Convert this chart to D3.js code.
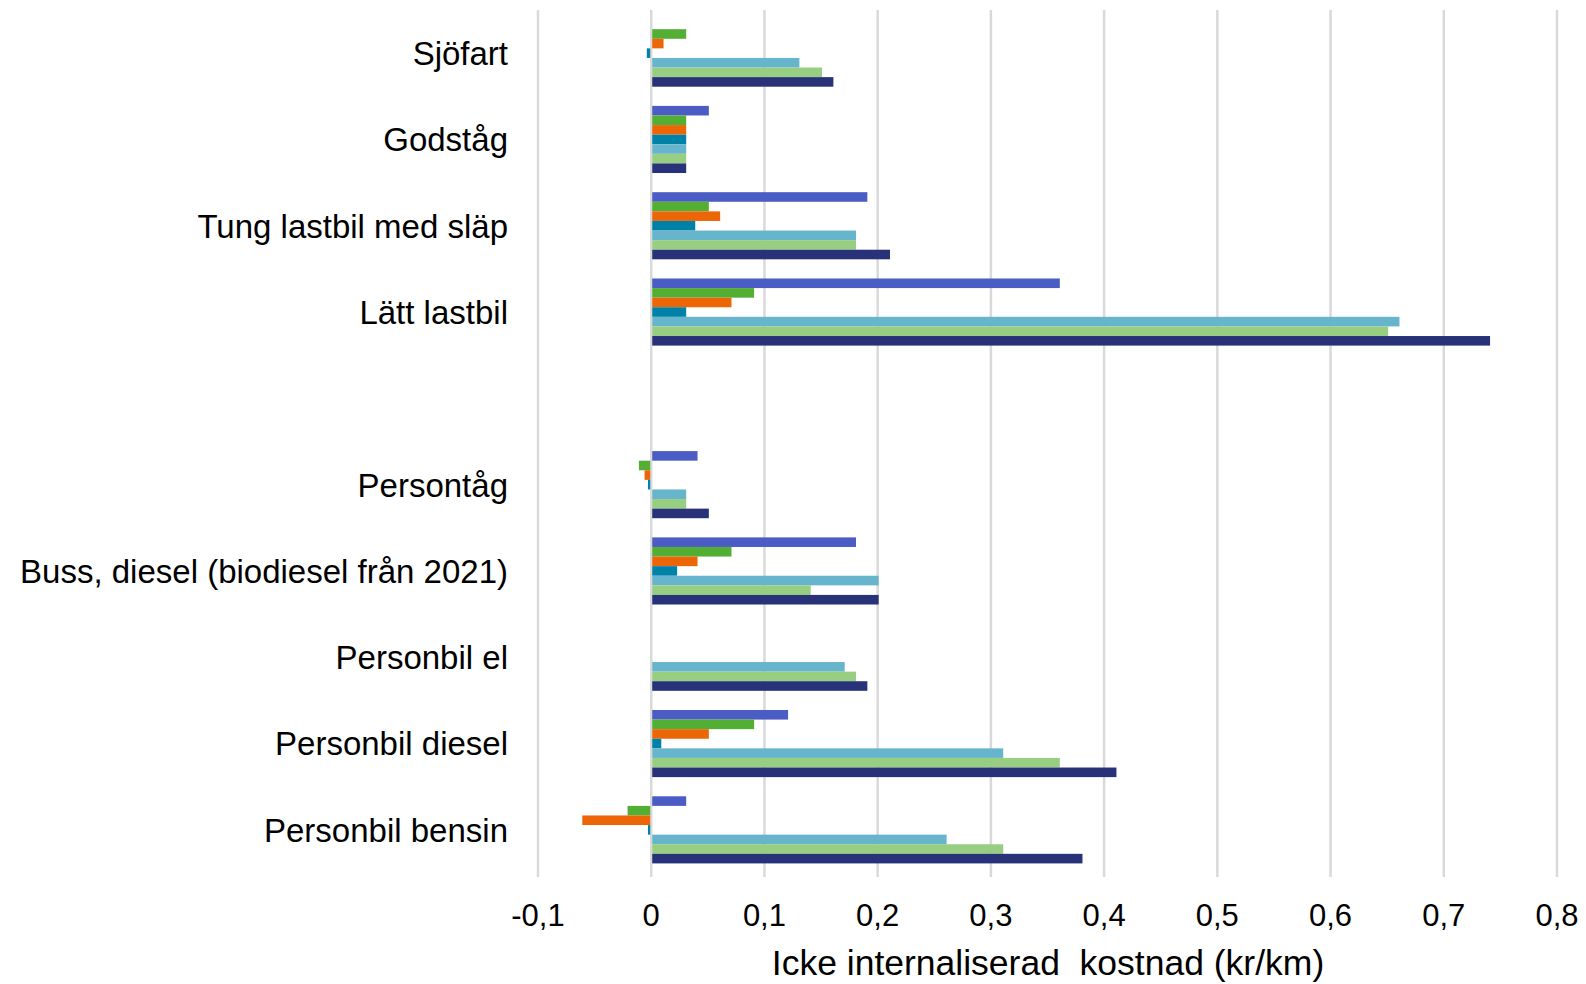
<!DOCTYPE html>
<html>
<head>
<meta charset="utf-8">
<script src="https://cdn.jsdelivr.net/npm/d3@7"></script>
<style>
  html, body { margin: 0; padding: 0; background: #fff; }
  text { font-family: "Liberation Sans", Arial, sans-serif; fill: #000; }
</style>
</head>
<body>
<svg id="chart" width="1586" height="984"></svg>
<script>
// Categories top to bottom ("" = empty spacer row)
const categories = ["Sjöfart", "Godståg", "Tung lastbil med släp", "Lätt lastbil", "",
  "Persontåg", "Buss, diesel (biodiesel från 2021)", "Personbil el", "Personbil diesel", "Personbil bensin"];
// Seven series, in their order inside each group (top to bottom)
const seriesNames = ["S1", "S2", "S3", "S4", "S5", "S6", "S7"];
const seriesColors = ["#4B5CC4", "#53AE34", "#EC6608", "#0082A8", "#67B5CD", "#98CE82", "#283278"];
// Values (kr/km), one array per series, aligned with categories; null = no bar
const s1 = [null, 0.05, 0.19, 0.36, null, 0.04, 0.18, null, 0.12, 0.03];
const s2 = [0.03, 0.03, 0.05, 0.09, null, -0.01, 0.07, null, 0.09, -0.02];
const s3 = [0.01, 0.03, 0.06, 0.07, null, -0.005, 0.04, null, 0.05, -0.06];
const s4 = [-0.003, 0.03, 0.038, 0.03, null, -0.002, 0.022, null, 0.008, -0.002];
const s5 = [0.13, 0.03, 0.18, 0.66, null, 0.03, 0.20, 0.17, 0.31, 0.26];
const s6 = [0.15, 0.03, 0.18, 0.65, null, 0.03, 0.14, 0.18, 0.36, 0.31];
const s7 = [0.16, 0.03, 0.21, 0.74, null, 0.05, 0.20, 0.19, 0.41, 0.38];
const seriesValues = [s1, s2, s3, s4, s5, s6, s7];
const xTicks = [-0.1, 0, 0.1, 0.2, 0.3, 0.4, 0.5, 0.6, 0.7, 0.8];
const xTitle = "Icke internaliserad\u00a0 kostnad (kr/km)";

const svg = d3.select("#chart");
const plotTop = 10, plotBottom = 873;
const x = d3.scaleLinear().domain([-0.1, 0.8]).range([538, 1557]);
const catKeys = categories.map((c, i) => "c" + i);
const y = d3.scaleBand().domain(catKeys).range([plotTop, plotBottom])
  .paddingInner(2 / 9).paddingOuter(1 / 9);
const yInner = d3.scaleBand().domain(seriesNames).range([0, y.bandwidth()]);

// Gridlines
svg.append("g").selectAll("line").data(xTicks).join("line")
  .attr("x1", d => x(d)).attr("x2", d => x(d))
  .attr("y1", plotTop).attr("y2", plotBottom + 4)
  .attr("stroke", "#d9d9d9").attr("stroke-width", 2.5);

// Bars
const rows = [];
seriesValues.forEach((vals, si) => {
  vals.forEach((v, ci) => {
    if (v !== null) rows.push({ s: seriesNames[si], color: seriesColors[si], c: catKeys[ci], v });
  });
});
svg.append("g").selectAll("rect").data(rows).join("rect")
  .attr("x", d => d.v < 0 ? x(d.v) - 1 : x(0) + 1)
  .attr("width", d => Math.abs(x(d.v) - x(0)))
  .attr("y", d => y(d.c) + yInner(d.s))
  .attr("height", yInner.bandwidth())
  .attr("fill", d => d.color);

// Category labels
svg.append("g").selectAll("text").data(categories).join("text")
  .attr("x", 508)
  .attr("y", (d, i) => y(catKeys[i]) + y.bandwidth() / 2)
  .attr("dy", "0.36em")
  .attr("text-anchor", "end")
  .attr("font-size", 33)
  .text(d => d);

// X axis tick labels
const fmt = d => (d < 0 ? "-" : "") + String(Math.abs(Math.round(d * 10) / 10)).replace(".", ",");
svg.append("g").selectAll("text").data(xTicks).join("text")
  .attr("x", d => x(d))
  .attr("y", 926)
  .attr("text-anchor", "middle")
  .attr("font-size", 31)
  .text(fmt);

// Axis title
svg.append("text")
  .attr("x", 1048)
  .attr("y", 975)
  .attr("text-anchor", "middle")
  .attr("font-size", 35.5)
  .text(xTitle);
</script>
</body>
</html>
